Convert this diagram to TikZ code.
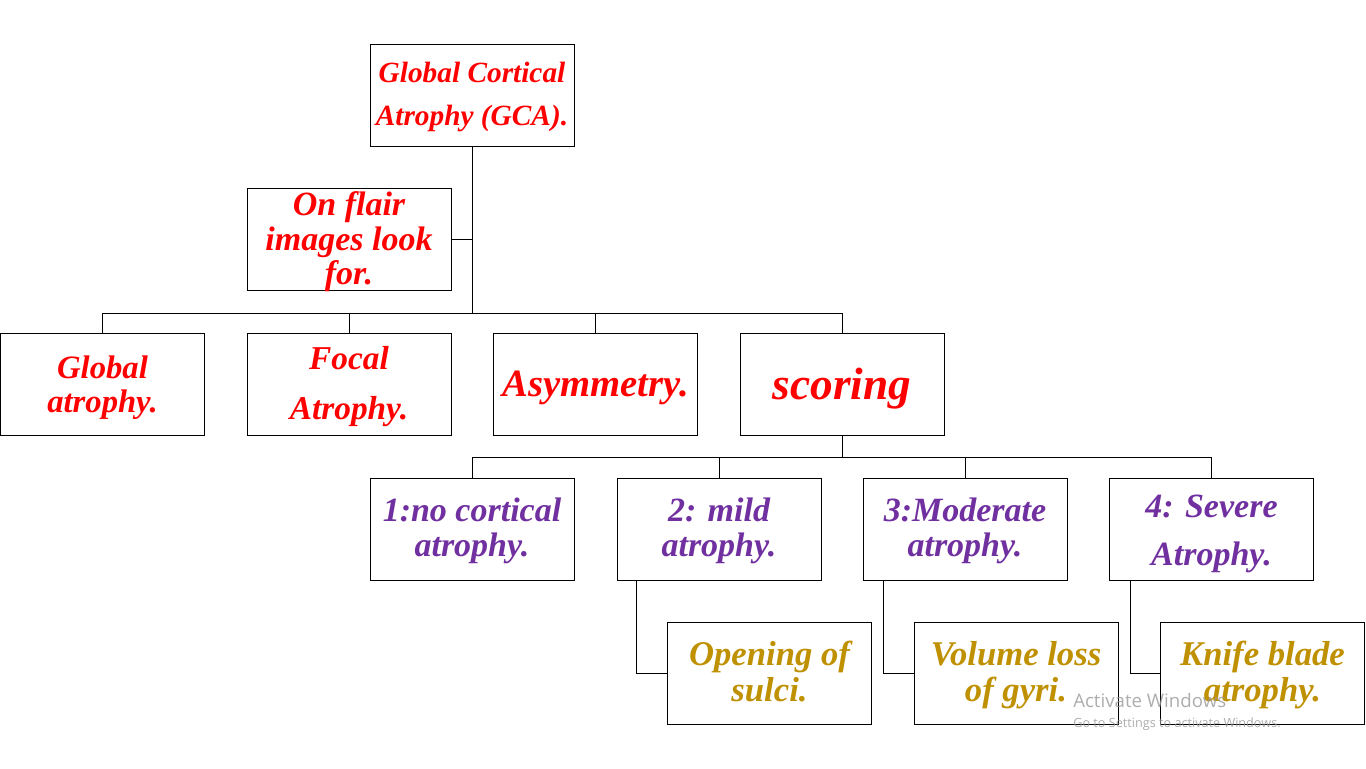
\documentclass[tikz,border=0pt]{standalone}
\usepackage{fontspec}
\setmainfont{Liberation Serif}
\newfontfamily\winfont{Open Sans}
\definecolor{gcared}{RGB}{255,0,0}
\definecolor{gcapurple}{RGB}{112,48,160}
\definecolor{gcagold}{RGB}{191,144,0}
\begin{document}
\begin{tikzpicture}[x=0.75pt,y=-0.75pt,
  box/.style={draw=black,line width=0.75pt,fill=white,inner sep=0pt,
    minimum width=153pt,minimum height=76.5pt},
  txt/.style={inner sep=0pt,align=center},
  redtxt/.style n args={2}{txt,text=gcared,font=\bfseries\itshape\fontsize{#1}{#2}\selectfont},
  purpletxt/.style n args={2}{txt,text=gcapurple,font=\bfseries\itshape\fontsize{#1}{#2}\selectfont},
  goldtxt/.style={txt,text=gcagold,font=\bfseries\itshape\fontsize{26pt}{27pt}\selectfont},
  wintxt/.style={anchor=base west,inner sep=0pt,text=black!40,opacity=0.8},
  link/.style={draw=black,line width=0.75pt}]
\useasboundingbox (0,0) rectangle (1366,768);
\fill[white] (0,0) rectangle (1366,768);

% boxes
\node[box] (gca) at (472,95) {};
\node[box] (flair) at (349,239) {};
\node[box] (ga) at (102.5,384) {};
\node[box] (focal) at (349,384) {};
\node[box] (asym) at (595.5,384) {};
\node[box] (scoring) at (842,384) {};
\node[box] (s1) at (472,529) {};
\node[box] (s2) at (719,529) {};
\node[box] (s3) at (965,529) {};
\node[box] (s4) at (1211.5,529) {};
\coordinate (bus1) at (472,313);
\coordinate (bus2) at (842,457);

% connectors
\draw[link] (gca.south) -- (bus1);
\draw[link] (flair.east) -- (flair.east -| gca.south);
\draw[link] (ga.north) |- (bus1);
\draw[link] (focal.north) -- (focal.north |- bus1);
\draw[link] (asym.north) |- (bus1);
\draw[link] (scoring.north) |- (bus1);
\draw[link] (scoring.south) -- (bus2);
\draw[link] (s1.north) |- (bus2);
\draw[link] (s2.north) -- (s2.north |- bus2);
\draw[link] (s3.north) -- (s3.north |- bus2);
\draw[link] (s4.north) |- (bus2);

% row 4 boxes
\node[box] (d2) at (769.5,673) {};
\node[box] (d3) at (1016,673) {};
\node[box] (d4) at (1262.5,673) {};
\draw[link] ([xshift=15pt]s2.south west) |- (d2.west);
\draw[link] ([xshift=15.75pt]s3.south west) |- (d3.west);
\draw[link] ([xshift=15.75pt]s4.south west) |- (d4.west);

% texts
\node[redtxt={22pt}{32pt}] (gcat) at ([yshift=-1.5pt]gca.center) {Global Cortical\\ Atrophy (GCA).};
\node[redtxt={25.5pt}{26pt}] (flairt) at ([yshift=-2pt]flair.center) {On flair\\ images look\\ for.};
\node[redtxt={24.5pt}{25.5pt}] (gat) at ([yshift=-3pt]ga.center) {Global\\ atrophy.};
\node[redtxt={25pt}{37.5pt}] (focalt) at ([yshift=-2.25pt]focal.center) {Focal\\ Atrophy.};
\node[redtxt={29pt}{30pt}] (asymt) at ([yshift=-3pt]asym.center) {Asymmetry.};
\node[redtxt={34pt}{36pt}] (scoringt) at ([yshift=-3.75pt]scoring.center) {scoring};
\node[purpletxt={25.5pt}{26pt}] (s1t) at ([yshift=-1.5pt]s1.center) {1:no cortical\\ atrophy.};
\node[purpletxt={25.5pt}{26pt}] (s2t) at ([yshift=-1.5pt]s2.center) {2: mild\\ atrophy.};
\node[purpletxt={25.5pt}{26pt}] (s3t) at ([yshift=-1.5pt]s3.center) {3:Moderate\\ atrophy.};
\node[purpletxt={25.5pt}{36pt}] (s4t) at ([yshift=-3.75pt]s4.center) {4: Severe\\ Atrophy.};
\node[goldtxt] (d2t) at ([yshift=-1.4pt]d2.center) {Opening of\vphantom{Kfg}\\ sulci.\vphantom{Kfg}};
\node[goldtxt] (d3t) at ([yshift=-1.4pt]d3.center) {Volume loss\vphantom{Kfg}\\ of gyri.\vphantom{Kfg}};
\node[goldtxt] (d4t) at ([yshift=-1.4pt]d4.center) {Knife blade\vphantom{Kfg}\\ atrophy.\vphantom{Kfg}};

% screen overlay text
\node[wintxt,font=\winfont\fontsize{14pt}{15pt}\selectfont] (act) at (1073,707) {Activate Windows};
\node[wintxt,font=\winfont\fontsize{9.5pt}{11pt}\selectfont] (sett) at (1073,727) {Go to Settings to activate Windows.};
\end{tikzpicture}
\end{document}
